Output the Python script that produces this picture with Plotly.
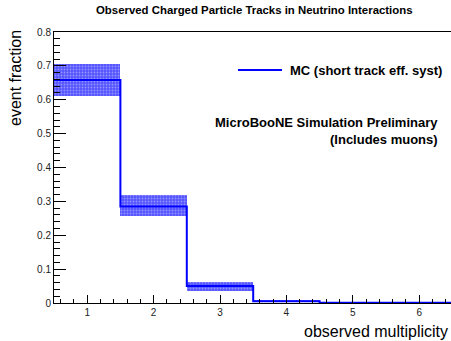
import plotly.graph_objects as go

# data
bin_edges = [0.5, 1.5, 2.5, 3.5, 4.5, 5.5, 6.5]
bin_centers = [1, 2, 3, 4, 5, 6]
mc_values = [0.658, 0.285, 0.050, 0.005, 0.001, 0.001]
band_low = [0.611, 0.256, 0.036, 0.003, 0.0005, 0.0005]
band_high = [0.705, 0.319, 0.061, 0.007, 0.0015, 0.0015]

title_text = "Observed Charged Particle Tracks in Neutrino Interactions"
x_title = "observed multiplicity"
y_title = "event fraction"
legend_text = "MC (short track eff. syst)"
label1 = "MicroBooNE Simulation Preliminary"
label2 = "(Includes muons)"

W, H = 451, 341
L, R, T, B = 54, 0, 32, 38
pw = W - L - R
ph = H - T - B

def px(xp):
    return (xp - L) / pw

def py(yp):
    return (H - B - yp) / ph

fig = go.Figure()

fig.add_trace(go.Bar(
    x=bin_centers,
    base=band_low,
    y=[h - l for h, l in zip(band_high, band_low)],
    width=1.0,
    marker=dict(
        color="rgb(85,85,255)",
        line=dict(width=0),
        pattern=dict(shape=".", fgcolor="rgba(215,215,255,0.95)", size=3, solidity=0.3),
    ),
    showlegend=False,
    hoverinfo="skip",
))

fig.add_trace(go.Scatter(
    x=bin_edges,
    y=mc_values + [mc_values[-1]],
    mode="lines",
    line=dict(color="rgb(0,0,255)", width=2, shape="hv"),
    showlegend=False,
))

axis_font = dict(family="Liberation Sans, Arial, sans-serif", size=10, color="#222")

fig.update_layout(
    width=W, height=H,
    margin=dict(l=L, r=R, t=T, b=B, pad=0),
    paper_bgcolor="white",
    plot_bgcolor="white",
    showlegend=False,
    bargap=0,
    font=dict(family="Liberation Sans, Arial, sans-serif", color="black"),
    xaxis=dict(
        range=[0.5, 0.5 + pw / 66.4],
        tick0=0, dtick=1,
        ticks="inside", ticklen=8, tickwidth=1, tickcolor="black",
        minor=dict(dtick=0.2, ticks="inside", ticklen=4, tickcolor="black", tickwidth=1),
        showline=True, linecolor="black", linewidth=1, mirror=True,
        showgrid=False, zeroline=False,
        tickfont=axis_font,
    ),
    yaxis=dict(
        range=[0, 0.8],
        tick0=0, dtick=0.1,
        ticks="inside", ticklen=12, tickwidth=1, tickcolor="black",
        minor=dict(dtick=0.02, ticks="inside", ticklen=6, tickcolor="black", tickwidth=1),
        showline=True, linecolor="black", linewidth=1, mirror=True,
        showgrid=False, zeroline=False,
        tickfont=axis_font,
    ),
)

ann = []
ann.append(dict(text="<b>" + title_text + "</b>", xref="paper", yref="paper",
                x=px(254), y=py(10), xanchor="center", yanchor="middle",
                showarrow=False, font=dict(size=11.4, color="black")))
ann.append(dict(text=y_title, xref="paper", yref="paper",
                x=px(15), y=py(78), xanchor="center", yanchor="middle", textangle=-90,
                showarrow=False, font=dict(size=16, color="black")))
ann.append(dict(text=x_title, xref="paper", yref="paper",
                x=px(450), y=py(331), xanchor="right", yanchor="middle",
                showarrow=False, font=dict(size=16, color="black")))
ann.append(dict(text="<b>" + legend_text + "</b>", xref="paper", yref="paper",
                x=px(288), y=py(70), xanchor="left", yanchor="middle",
                showarrow=False, font=dict(size=13, color="black")))
ann.append(dict(text="<b>" + label1 + "</b>", xref="paper", yref="paper",
                x=px(440), y=py(122), xanchor="right", yanchor="middle",
                showarrow=False, font=dict(size=13, color="black")))
ann.append(dict(text="<b>" + label2 + "</b>", xref="paper", yref="paper",
                x=px(440), y=py(139), xanchor="right", yanchor="middle",
                showarrow=False, font=dict(size=13, color="black")))
fig.update_layout(annotations=ann)

fig.add_shape(type="line", xref="paper", yref="paper",
              x0=px(238), x1=px(282), y0=py(70), y1=py(70),
              line=dict(color="rgb(0,0,255)", width=2))

fig.write_html("out.html")
